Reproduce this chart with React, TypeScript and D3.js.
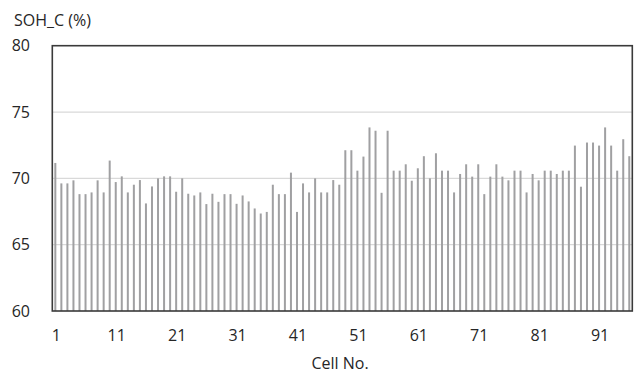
import React from "react";
import * as d3 from "d3";

const cells: number[] = Array.from({ length: 96 }, (_, i) => i + 1);
const soh: number[] = [
  71.16, 69.62, 69.62, 69.85, 68.81, 68.81, 68.94, 69.85, 68.94, 71.34,
  69.72, 70.15, 68.94, 69.52, 69.87, 68.11, 69.39, 70.0, 70.15, 70.15,
  68.99, 70.0, 68.84, 68.71, 68.94, 68.06, 68.84, 68.23, 68.81, 68.81,
  68.08, 68.71, 68.26, 67.73, 67.35, 67.47, 69.52, 68.81, 68.81, 70.43,
  67.47, 69.62, 68.94, 70.0, 68.94, 68.94, 69.87, 69.52, 72.12, 72.12,
  70.58, 71.64, 73.84, 73.59, 68.91, 73.59, 70.58, 70.58, 71.06, 69.82,
  70.76, 71.67, 70.0, 71.89, 70.58, 70.58, 68.94, 70.33, 71.06, 70.13,
  71.06, 68.81, 70.13, 71.06, 70.13, 69.85, 70.58, 70.58, 68.94, 70.33,
  69.85, 70.58, 70.58, 70.33, 70.58, 70.58, 72.47, 69.37, 72.7, 72.7,
  72.47, 73.84, 72.47, 70.58, 72.95, 71.67,
];
const yTicks: number[] = [60, 65, 70, 75, 80];
const xTickLabels: number[] = [1, 11, 21, 31, 41, 51, 61, 71, 81, 91];

export default function App() {
  const W = 638, H = 376;
  const left = 52.3, right = 632.3, top = 45.7, bottom = 311;
  const x = d3.scaleBand<number>().domain(cells).range([left, right]).padding(0);
  const y = d3.scaleLinear().domain([60, 80]).range([bottom, top]);
  const font = "'Open Sans', 'Liberation Sans', sans-serif";
  const bw = 2;
  return (
    <svg width={W} height={H} style={{ position: "absolute", left: 0, top: 0, background: "#fff" }}>
      {yTicks.filter((t) => t > 60 && t < 80).map((t) => (
        <line key={t} x1={left} x2={right} y1={y(t)} y2={y(t)} stroke="#d9d9d9" strokeWidth={1.2} />
      ))}
      {cells.map((c, i) => {
        const cx = x(c)! + x.bandwidth() / 2;
        return (
          <rect key={c} x={cx - bw / 2} y={y(soh[i])} width={bw} height={bottom - y(soh[i])} fill="#a0a0a2" />
        );
      })}
      <rect x={left} y={top} width={right - left} height={bottom - top} fill="none" stroke="#3a3a3a" strokeWidth={1.6} />
      {yTicks.map((t) => (
        <text key={t} x={30} y={y(t)} dy="0.35em" textAnchor="end" fontFamily={font} fontSize={16} fill="#262626">
          {t}
        </text>
      ))}
      {xTickLabels.map((t) => (
        <text key={t} x={x(t)! + x.bandwidth() / 2 + 1} y={335} dy="0.35em" textAnchor="middle" fontFamily={font} fontSize={16} fill="#262626">
          {t}
        </text>
      ))}
      <text x={340} y={363} dy="0.35em" textAnchor="middle" fontFamily={font} fontSize={16} fill="#262626">
        Cell No.
      </text>
      <text x={14} y={20} dy="0.35em" textAnchor="start" fontFamily={font} fontSize={16} fill="#262626">
        SOH_C (%)
      </text>
    </svg>
  );
}
